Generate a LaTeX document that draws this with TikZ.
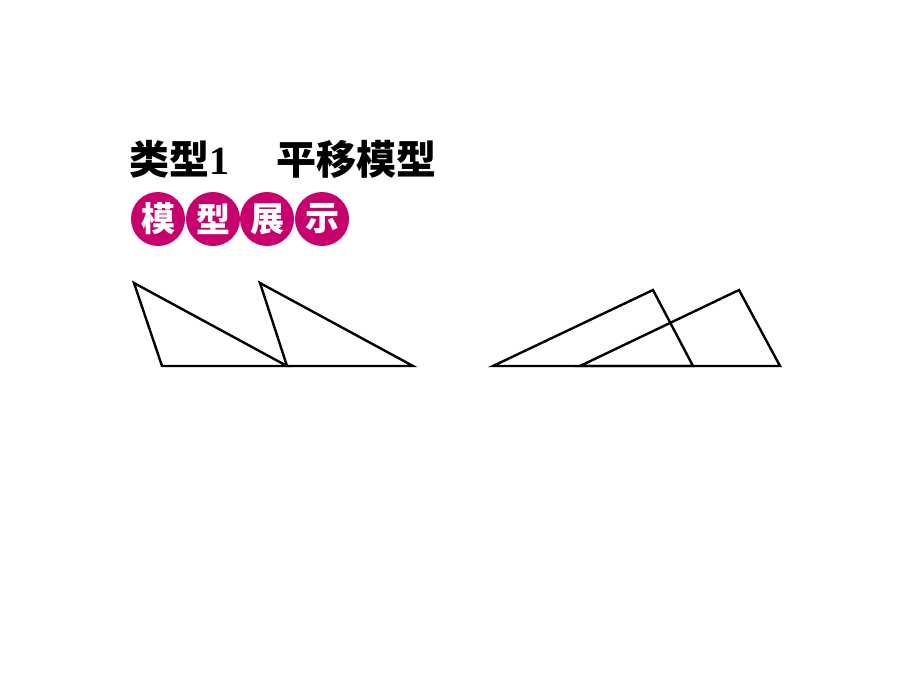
\documentclass[tikz,border=0pt]{standalone}
\usepackage{fontspec}
\newfontfamily\cjk{Noto Sans CJK SC}
\newfontfamily\tms{Liberation Serif}
\definecolor{badge}{RGB}{200,0,110}
\begin{document}
\begin{tikzpicture}[x=1pt,y=-1pt,
  edge/.style={draw=black,line width=2.4pt,line join=miter},
  circ/.style={circle,fill=badge,minimum size=54pt,inner sep=0pt,text=white,font=\cjk\bfseries\fontsize{34}{34}\selectfont},
  ttl/.style={inner sep=0pt,anchor=base west,font=\cjk\bfseries\fontsize{40}{40}\selectfont}]
\useasboundingbox (0,0) rectangle (920,690);
% title
\node[ttl] (t1) at (129,174) {类型};
\node[ttl,font=\tms\bfseries\fontsize{40}{40}\selectfont] (t2) at (t1.base east) {1};
\node[ttl] (t3) at (276,174) {平移模型};
% badges
\node[circ] (b1) at (158,219) {模};
\node[circ] (b2) at (213,219) {型};
\node[circ] (b3) at (267,219) {展};
\node[circ] (b4) at (322,219) {示};
% left figure
\coordinate (A1) at (134,283);
\coordinate (B1) at (162,366);
\coordinate (C1) at (287,366);
\coordinate (A2) at (260,283);
\coordinate (C2) at (413,366);
\draw[edge] (A1) -- (B1) -- (C1) -- cycle;
\draw[edge] (A2) -- (C1) -- (C2) -- cycle;
% right figure
\coordinate (P1) at (493,366);
\coordinate (Q1) at (653,290);
\coordinate (R1) at (693,366);
\coordinate (P2) at (580,366);
\coordinate (Q2) at (739,290);
\coordinate (R2) at (780,366);
\draw[edge] (P1) -- (Q1) -- (R1) -- cycle;
\draw[edge] (P2) -- (Q2) -- (R2) -- cycle;
\end{tikzpicture}
\end{document}
